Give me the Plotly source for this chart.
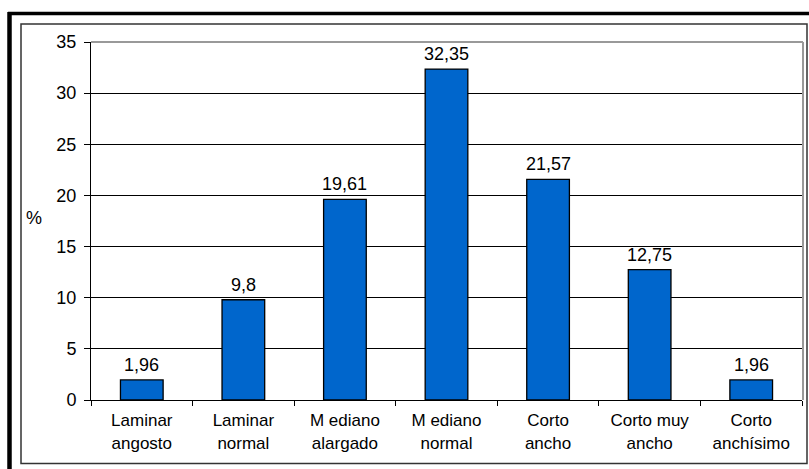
import plotly.graph_objects as go

categories = ["Laminar<br>angosto", "Laminar<br>normal", "M ediano<br>alargado",
              "M ediano<br>normal", "Corto<br>ancho", "Corto muy<br>ancho", "Corto<br>anchísimo"]
values = [1.96, 9.8, 19.61, 32.35, 21.57, 12.75, 1.96]
value_labels = ["1,96", "9,8", "19,61", "32,35", "21,57", "12,75", "1,96"]
y_ticks = [0, 5, 10, 15, 20, 25, 30, 35]

W, H = 809, 469
L, R, T, B = 91, 802, 42, 400
FONT = "Liberation Sans, Arial, sans-serif"

def px(x):
    return (x - L) / (R - L)

def py(y):
    return (B - y) / (B - T)

fig = go.Figure()
fig.add_trace(go.Bar(
    x=categories, y=values,
    marker=dict(color="#0066CC", line=dict(color="black", width=1.3)),
    width=0.42,
))

annotations = []
for c, v, t in zip(categories, values, value_labels):
    annotations.append(dict(x=c, y=v, text=t, showarrow=False, yanchor="bottom",
                            yshift=3, font=dict(size=18, color="black", family=FONT)))
annotations.append(dict(xref="paper", yref="paper", x=px(34), y=py(218), text="%",
                        xanchor="center", yanchor="middle",
                        showarrow=False, font=dict(size=18, color="black", family=FONT)))

shapes = [
    # thick black frame top and left
    dict(type="line", xref="paper", yref="paper", x0=px(8), x1=px(809), y0=py(13.5), y1=py(13.5),
         line=dict(color="black", width=3.5)),
    dict(type="line", xref="paper", yref="paper", x0=px(9.5), x1=px(9.5), y0=py(12), y1=py(470),
         line=dict(color="black", width=4.5)),
    # inner thin frame
    dict(type="rect", xref="paper", yref="paper", x0=px(21), x1=px(807), y0=py(24), y1=py(463.5),
         line=dict(color="#333333", width=1.5)),
    # plot area top/right gray border
    dict(type="line", xref="paper", yref="paper", x0=0, x1=px(803), y0=1, y1=1,
         line=dict(color="#999999", width=2)),
    dict(type="line", xref="paper", yref="paper", x0=px(803), x1=px(803), y0=0, y1=1,
         line=dict(color="#999999", width=2)),
]

fig.update_layout(
    width=W, height=H,
    margin=dict(l=L, r=W - R, t=T, b=H - B),
    paper_bgcolor="white", plot_bgcolor="white",
    showlegend=False,
    font=dict(family=FONT, size=18, color="black"),
    bargap=0.58,
    annotations=annotations,
    shapes=shapes,
)
fig.update_xaxes(
    showline=True, linecolor="black", linewidth=1,
    ticks="outside", tickson="boundaries", ticklen=5, tickcolor="black",
    tickfont=dict(size=17, family=FONT), showgrid=False, ticklabelstandoff=5,
)
fig.update_yaxes(
    range=[0, 35], tickvals=y_ticks, showline=True, linecolor="black", linewidth=1,
    ticks="outside", ticklen=6, tickcolor="black",
    showgrid=True, gridcolor="black", gridwidth=1, zeroline=False,
    tickfont=dict(size=18, family=FONT), ticklabelstandoff=4,
)

fig.write_html("out.html", config={"displayModeBar": False},
               post_script="document.body.style.margin='0';")
